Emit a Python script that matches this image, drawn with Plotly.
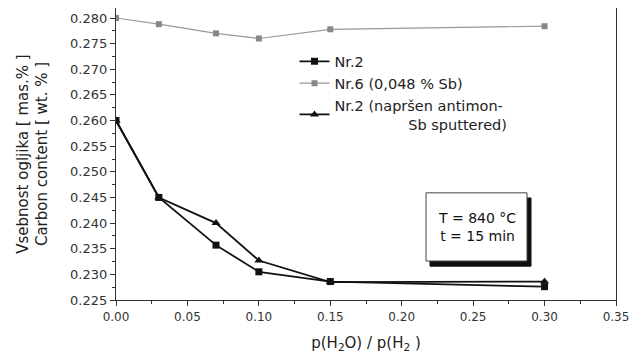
import plotly.graph_objects as go

x_vals = [0.0, 0.03, 0.07, 0.10, 0.15, 0.30]
nr2 = [0.260, 0.245, 0.2357, 0.2305, 0.2286, 0.2276]
nr6 = [0.2800, 0.2788, 0.2770, 0.2760, 0.2778, 0.2784]
nr2_sb = [0.260, 0.245, 0.2400, 0.2327, 0.2285, 0.2286]

names = ["Nr.2", "Nr.6 (0,048 % Sb)",
         "Nr.2 (napršen antimon-<br>" + "\u00a0" * 16 + "Sb sputtered)"]
box_text = "T = 840 °C<br>t = 15 min"

FONT = "DejaVu Sans, Liberation Sans, Arial, sans-serif"

fig = go.Figure()
fig.add_trace(go.Scatter(x=x_vals, y=nr2, name=names[0], mode="lines+markers",
                         line=dict(color="#111111", width=1.8),
                         marker=dict(symbol="square", size=7, color="#111111")))
fig.add_trace(go.Scatter(x=x_vals, y=nr6, name=names[1], mode="lines+markers",
                         line=dict(color="#999999", width=1.2),
                         marker=dict(symbol="square", size=6, color="#888888")))
fig.add_trace(go.Scatter(x=x_vals, y=nr2_sb, name=names[2], mode="lines+markers",
                         line=dict(color="#111111", width=1.8),
                         marker=dict(symbol="triangle-up", size=8, color="#111111")))

# text box with drop shadow
bx0, bx1, by0, by1 = 0.217, 0.2877, 0.2326, 0.2459
fig.add_shape(type="rect", xref="x", yref="y",
              x0=bx0 + 0.0028, x1=bx1 + 0.0028, y0=by0 - 0.001, y1=by1 - 0.001,
              fillcolor="#111111", line=dict(color="#111111", width=1), layer="above")
fig.add_shape(type="rect", xref="x", yref="y",
              x0=bx0, x1=bx1, y0=by0, y1=by1,
              fillcolor="white", line=dict(color="#444444", width=1), layer="above")
fig.add_annotation(x=(bx0 + bx1) / 2, y=(by0 + by1) / 2, xref="x", yref="y",
                   text=box_text, showarrow=False,
                   font=dict(family=FONT, size=14, color="#111111"))

fig.update_layout(
    width=635, height=350,
    margin=dict(l=108, r=27, t=0, b=58),
    paper_bgcolor="white", plot_bgcolor="white",
    font=dict(family=FONT, size=12, color="#222222"),
    showlegend=True,
    legend=dict(x=0.357, y=0.872, xanchor="left", yanchor="top",
                bgcolor="rgba(0,0,0,0)", borderwidth=0,
                font=dict(family=FONT, size=14.5, color="#222222"),
                tracegroupgap=0, itemwidth=30),
    xaxis=dict(range=[0, 0.35], dtick=0.05, tickformat=".2f", automargin=False,
               showgrid=False, zeroline=False,
               showline=True, linecolor="#333333", linewidth=1.2, mirror=True,
               ticks="outside", ticklen=5, tickcolor="#333333",
               minor=dict(dtick=0.025, ticks="outside", ticklen=3, tickcolor="#333333"),
               title=dict(text="p(H<sub>2</sub>O) / p(H<sub>2</sub> )",
                          font=dict(family=FONT, size=15, color="#222222"), standoff=14),
               tickfont=dict(family=FONT, size=12, color="#333333")),
    yaxis=dict(range=[0.225, 0.28195], dtick=0.005, tickformat=".3f", automargin=False,
               showgrid=False, zeroline=False,
               showline=True, linecolor="#333333", linewidth=1.2, mirror=True,
               ticks="outside", ticklen=5, tickcolor="#333333",
               minor=dict(dtick=0.0025, ticks="outside", ticklen=3, tickcolor="#333333"),
               title=dict(text="Vsebnost ogljika [ mas.% ]<br>Carbon content [ wt. % ]",
                          font=dict(family=FONT, size=15, color="#222222"), standoff=18),
               tickfont=dict(family=FONT, size=13, color="#333333")),
)

fig.write_html("out.html")
